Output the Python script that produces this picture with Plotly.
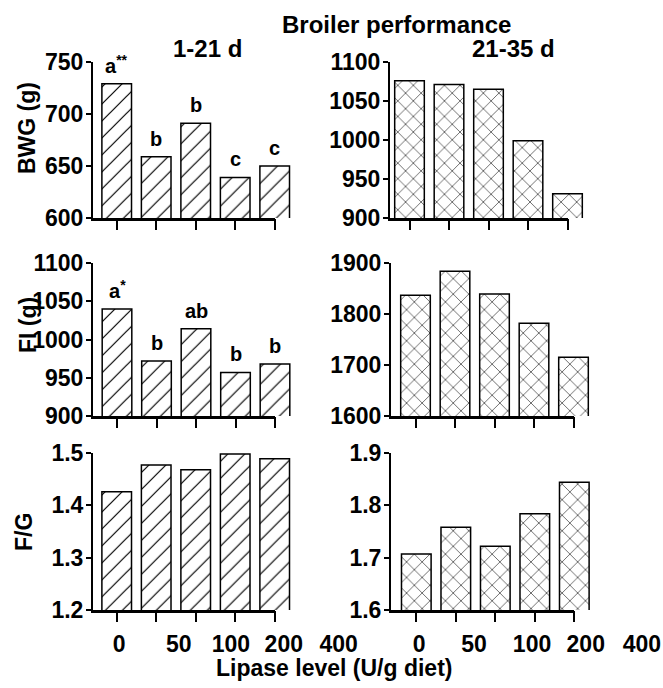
import plotly.graph_objects as go

# ---------------- data ----------------
bwg_1_21 = [729, 659, 691, 639, 650]
bwg_21_35 = [1076, 1071, 1065, 999, 931]
fi_1_21 = [1040, 972, 1014, 957, 968]
fi_21_35 = [1837, 1884, 1839, 1782, 1715]
fg_1_21 = [1.426, 1.477, 1.468, 1.498, 1.489]
fg_21_35 = [1.707, 1.758, 1.722, 1.784, 1.844]

bwg_letters = ["a<sup>**</sup>", "b", "b", "c", "c"]
fi_letters = ["a<sup>*</sup>", "b", "ab", "b", "b"]

tick_labels = ["0", "50", "100", "200", "400"]

bwg1_ticks = [600, 650, 700, 750]
bwg2_ticks = [900, 950, 1000, 1050, 1100]
fi1_ticks = [900, 950, 1000, 1050, 1100]
fi2_ticks = [1600, 1700, 1800, 1900]
fg1_ticks = [1.2, 1.3, 1.4, 1.5]
fg2_ticks = [1.6, 1.7, 1.8, 1.9]

# ---------------- layout helpers ----------------
W, H = 663, 688
FONT = "Liberation Sans, Arial, sans-serif"
SP = 39.5          # px per category
BW = 0.75          # bar width in category units


def fx(px):
    return px / W


def fy(py):
    return 1 - py / H


def bold(t):
    return f"<b>{t}</b>"


panels = [
    # values, ticks, axis_px, first_center_px, top_px, bottom_px, pattern, letters
    (bwg_1_21, bwg1_ticks, 93, 116.7, 62, 218, "/", bwg_letters),
    (bwg_21_35, bwg2_ticks, 390, 409.5, 62, 218, "x", None),
    (fi_1_21, fi1_ticks, 93, 117.0, 263, 416, "/", fi_letters),
    (fi_21_35, fi2_ticks, 391, 415.5, 263, 416, "x", None),
    (fg_1_21, fg1_ticks, 93, 116.7, 453, 610, "/", None),
    (fg_21_35, fg2_ticks, 391, 416.3, 453, 610, "x", None),
]

fig = go.Figure()
layout = dict(
    template="none",
    width=W, height=H, margin=dict(l=0, r=0, t=0, b=0, pad=0),
    paper_bgcolor="white", plot_bgcolor="rgba(0,0,0,0)", showlegend=False,
    font=dict(family=FONT, color="black"),
)
annotations = []
next_axis = 7

for i, (vals, ticks, axpx, c0, top, bot, pat, letters) in enumerate(panels):
    n = i + 1
    xa = "x" if n == 1 else f"x{n}"
    ya = "y" if n == 1 else f"y{n}"
    xkey = "xaxis" if n == 1 else f"xaxis{n}"
    ykey = "yaxis" if n == 1 else f"yaxis{n}"
    x0 = -(c0 - axpx) / SP
    x1 = 4 + BW / 2 + 2 / SP
    xs = list(range(len(vals)))
    fig.add_trace(go.Bar(
        x=xs, y=vals, width=BW, xaxis=xa, yaxis=ya,
        marker=dict(color="white", line=dict(color="black", width=1.5),
                    pattern=dict(shape=pat, fgcolor="black", bgcolor="white",
                                 size=12 if pat == "/" else 11, solidity=0.1)),
        hoverinfo="skip",
    ))
    layout[xkey] = dict(
        domain=[fx(axpx), fx(axpx + (x1 - x0) * SP)], range=[x0, x1], anchor=ya,
        showline=False, automargin=False,
        ticks="outside", ticklen=11, tickwidth=2, tickcolor="black",
        tickvals=xs, showticklabels=False, showgrid=False, zeroline=False,
        fixedrange=True,
    )
    layout[ykey] = dict(
        domain=[fy(bot), fy(top)], range=[ticks[0], ticks[-1]], anchor=xa,
        showline=True, linewidth=2, linecolor="black", automargin=False,
        ticks="outside", ticklen=5, tickwidth=2, tickcolor="black",
        tickvals=ticks, ticktext=[bold(f"{t:g}") for t in ticks],
        tickfont=dict(family=FONT, size=23, color="black"),
        ticklabelstandoff=-2,
        showgrid=False, zeroline=False, fixedrange=True,
    )
    # thick x-axis baseline running from the y axis to the last tick
    ln = next_axis
    next_axis += 1
    fig.add_trace(go.Scatter(x=[], y=[], xaxis=f"x{ln}", yaxis=ya,
                             hoverinfo="skip"))
    layout[f"xaxis{ln}"] = dict(
        domain=[fx(axpx), fx(c0 + 4 * SP)], range=[0, 1], anchor=ya,
        showline=True, linewidth=3, linecolor="black", ticks="",
        showticklabels=False, showgrid=False, zeroline=False,
        automargin=False, fixedrange=True,
    )
    if letters:
        for j, (v, t) in enumerate(zip(vals, letters)):
            annotations.append(dict(
                x=j, y=v, xref=xa, yref=ya, text=bold(t), showarrow=False,
                yanchor="bottom", yshift=5,
                font=dict(family=FONT, size=20, color="black"),
            ))

# separate label axes for the offset x tick labels of the bottom panels
label_pos = {5: [0.06, 1.57, 2.89, 4.23, 5.62], 6: [0.07, 1.46, 2.93, 4.29, 5.71]}
for n, pos in label_pos.items():
    _, _, axpx, c0, top, bot, _, _ = panels[n - 1]
    ln = next_axis
    next_axis += 1
    span = 265
    x0 = -(c0 - axpx) / SP
    fig.add_trace(go.Scatter(x=[], y=[], xaxis=f"x{ln}", yaxis=f"y{n}",
                             hoverinfo="skip"))
    layout[f"xaxis{ln}"] = dict(
        domain=[fx(axpx), fx(axpx + span)], range=[x0, x0 + span / SP],
        anchor=f"y{n}", showline=False, ticks="", tickvals=pos,
        ticktext=[bold(t) for t in tick_labels], ticklabelstandoff=18,
        tickfont=dict(family=FONT, size=23, color="black"),
        showgrid=False, zeroline=False, fixedrange=True, automargin=False,
    )


def txt(text, xp, yp, size, angle=0):
    annotations.append(dict(
        x=fx(xp), y=fy(yp), xref="paper", yref="paper", text=bold(text),
        showarrow=False, textangle=angle, xanchor="center", yanchor="middle",
        font=dict(family=FONT, size=size, color="black"),
    ))


txt("Broiler performance", 396, 25, 24)
txt("1-21 d", 207, 48, 24)
txt("21-35 d", 513, 48, 24)
txt("BWG (g)", 27, 128, 23, -90)
txt("FI (g)", 28, 325, 23, -90)
txt("F/G", 24, 532, 23, -90)
txt("Lipase level (U/g diet)", 334, 668, 23)

layout["annotations"] = annotations
fig.update_layout(**layout)
fig.write_html(
    "out.html",
    config={"displayModeBar": False},
    post_script="document.body.style.margin='0';document.body.style.overflow='hidden';",
)
